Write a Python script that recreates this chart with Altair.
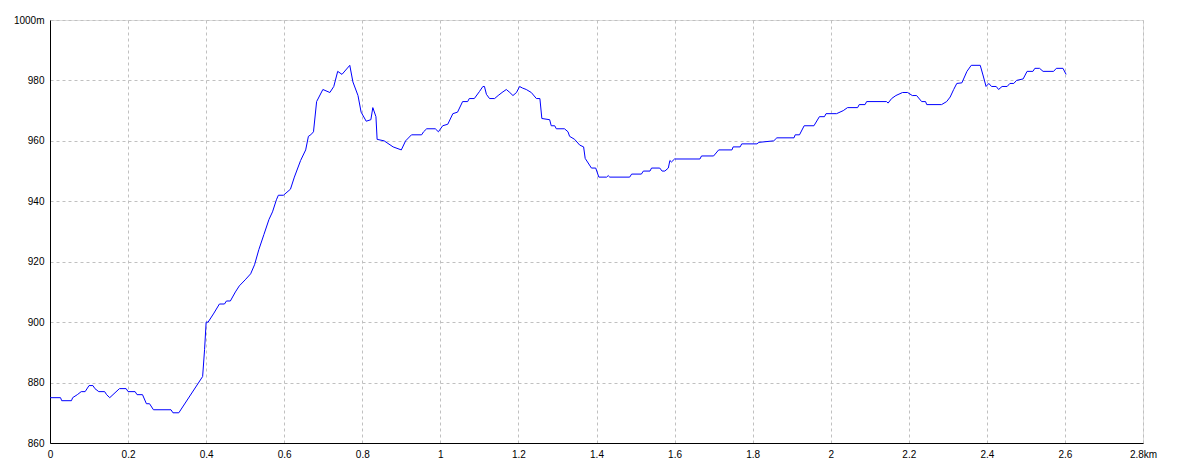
import altair as alt
import pandas as pd

km = [0.0, 0.027, 0.03, 0.055, 0.058, 0.07, 0.08, 0.09, 0.1, 0.11, 0.115, 0.125, 0.14, 0.145,
      0.153, 0.178, 0.195, 0.2, 0.218, 0.223, 0.237, 0.247, 0.255, 0.265, 0.31, 0.315, 0.33,
      0.391, 0.396, 0.4, 0.405, 0.42, 0.434, 0.447, 0.452, 0.462, 0.475, 0.485, 0.5, 0.514,
      0.524, 0.535, 0.548, 0.561, 0.57, 0.58, 0.585, 0.598, 0.616, 0.626, 0.642, 0.655, 0.662,
      0.668, 0.675, 0.683, 0.699, 0.717, 0.727, 0.737, 0.748, 0.768, 0.776, 0.789, 0.797, 0.81,
      0.822, 0.827, 0.835, 0.838, 0.856, 0.879, 0.9, 0.911, 0.926, 0.952, 0.957, 0.965, 0.987,
      0.995, 1.006, 1.019, 1.032, 1.044, 1.057, 1.07, 1.074, 1.087, 1.1, 1.109, 1.113, 1.118,
      1.126, 1.139, 1.148, 1.158, 1.169, 1.178, 1.186, 1.195, 1.203, 1.21, 1.22, 1.233, 1.246,
      1.255, 1.26, 1.28, 1.284, 1.293, 1.297, 1.318, 1.327, 1.331, 1.344, 1.357, 1.367, 1.371,
      1.382, 1.387, 1.398, 1.406, 1.426, 1.43, 1.434, 1.485, 1.49, 1.515, 1.52, 1.537, 1.541,
      1.562, 1.568, 1.575, 1.584, 1.588, 1.592, 1.6, 1.665, 1.669, 1.7, 1.713, 1.747, 1.75,
      1.768, 1.772, 1.811, 1.816, 1.854, 1.862, 1.906, 1.909, 1.92, 1.932, 1.957, 1.971, 1.984,
      1.988, 2.015, 2.032, 2.043, 2.069, 2.073, 2.088, 2.092, 2.143, 2.147, 2.156, 2.167, 2.184,
      2.197, 2.209, 2.22, 2.233, 2.243, 2.246, 2.284, 2.297, 2.306, 2.315, 2.323, 2.336, 2.349,
      2.36, 2.383, 2.39, 2.398, 2.405, 2.412, 2.424, 2.43, 2.439, 2.452, 2.459, 2.469, 2.476,
      2.493, 2.503, 2.518, 2.523, 2.535, 2.544, 2.571, 2.578, 2.595, 2.603]

elev = [875, 875, 874, 874, 875, 876, 877, 877, 879, 879, 878, 877, 877, 876,
        875, 878, 878, 877, 877, 876, 876, 873, 873, 871, 871, 870, 870,
        882, 891, 900, 900, 903, 906, 906, 907, 907, 910, 912, 914, 916,
        919, 924, 929, 934, 936.5, 940.5, 942, 942, 944, 948, 953.5, 957, 961.5,
        962, 963, 973, 977, 976, 978, 983, 982, 985, 979.5, 975, 969.5, 966.5,
        967, 971, 968, 960.5, 960, 958, 957, 960, 962, 962, 963, 964, 964,
        963, 965, 965.5, 969, 969.5, 973, 973, 974, 974, 976.3, 978, 978, 975.4,
        974, 974, 975, 976, 977, 976, 975, 976, 978, 977.5, 977, 976, 974,
        974, 967.4, 967, 965, 965, 964, 964, 963, 961.5, 960.5, 958.6, 958, 954.2,
        952, 951, 951, 948, 948, 948.5, 948, 948, 949, 949, 950, 950, 951,
        951, 950, 950, 951, 953.5, 953, 954, 954, 955, 955, 957, 957, 958,
        958, 959, 959, 959.5, 960, 961, 961, 962, 962, 965, 965, 968, 968,
        969, 969, 970, 971, 971, 972, 972, 973, 973, 972.5, 974, 975, 976,
        976, 975, 975, 973, 973, 972, 972, 973, 974.5, 977, 979, 979.2, 983,
        985, 985, 981.8, 978, 979, 978, 978, 977, 978, 978, 979, 979, 980,
        980.5, 983, 983, 984, 984, 983, 983, 984, 984, 982]

x_ticks = [0, 0.2, 0.4, 0.6, 0.8, 1, 1.2, 1.4, 1.6, 1.8, 2, 2.2, 2.4, 2.6, 2.8]
y_ticks = [860, 880, 900, 920, 940, 960, 980, 1000]

df = pd.DataFrame({"km": km, "elev": elev, "order": list(range(len(km)))})

FONT = "Liberation Sans"

chart = alt.Chart(df).mark_line(color="#0000ff", strokeWidth=1).encode(
    x=alt.X("km:Q",
            scale=alt.Scale(domain=[0, 2.8], nice=False, zero=False),
            axis=alt.Axis(values=x_ticks, title=None, grid=True, ticks=False, tickSize=0,
                          labelPadding=6, labelFontSize=10, labelFont=FONT, labelColor="#000000",
                          domainColor="#000000", domainWidth=1,
                          gridColor="#c0c0c0", gridDash=[3, 3], gridWidth=1,
                          labelExpr="datum.value >= 2.79 ? '2.8km' : format(datum.value, '~g')",
                          labelOverlap=False, labelFlush=False)),
    y=alt.Y("elev:Q",
            scale=alt.Scale(domain=[860, 1000], nice=False, zero=False),
            axis=alt.Axis(values=y_ticks, title=None, grid=True, ticks=False, tickSize=0,
                          labelPadding=6, labelFontSize=10, labelFont=FONT, labelColor="#000000",
                          domainColor="#000000", domainWidth=1,
                          gridColor="#c0c0c0", gridDash=[3, 3], gridWidth=1,
                          labelExpr="datum.value >= 1000 ? '1000m' : format(datum.value, 'd')",
                          labelOverlap=False, labelFlush=False)),
    order="order:Q",
).properties(
    width=1093,
    height=423,
    autosize=alt.AutoSizeParams(type="none"),
    padding={"left": 42, "top": 12, "right": 24, "bottom": 18},
).configure_view(
    stroke="#000000", strokeWidth=1
).configure(background="#ffffff")

chart.save("out.html", embed_options={"renderer": "svg", "actions": False})
